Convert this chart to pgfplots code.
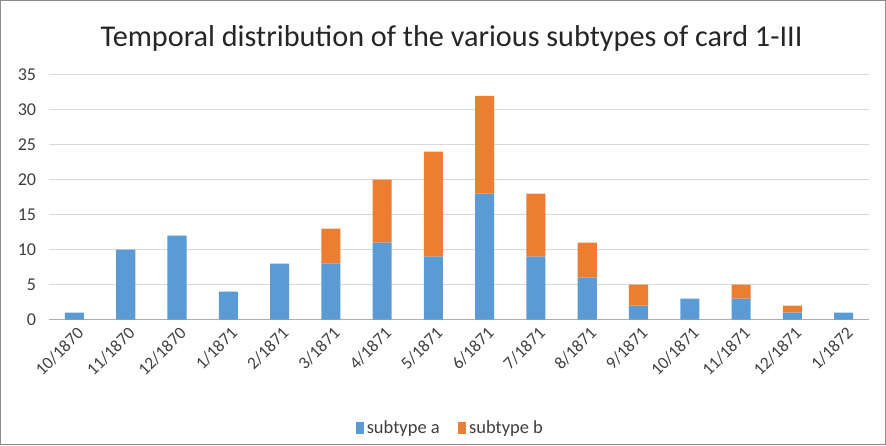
\documentclass[border=0pt]{standalone}
\usepackage{pgfplots}
\pgfplotsset{compat=1.18}
\usepackage{fontspec}
\setmainfont{Carlito}

\definecolor{cblue}{HTML}{5B9BD5}
\definecolor{corange}{HTML}{ED7D31}
\definecolor{cgrid}{HTML}{D9D9D9}
\definecolor{ctext}{HTML}{404040}

\begin{document}
\begin{tikzpicture}
  \begin{axis}[
    scale only axis,
    width=613.5pt, height=183pt,
    ybar stacked,
    bar width=14.25pt,
    xmin=-0.5, xmax=15.5,
    ymin=0, ymax=35,
    xtick={0,...,15},
    xticklabels={10/1870,11/1870,12/1870,1/1871,2/1871,3/1871,4/1871,5/1871,6/1871,7/1871,8/1871,9/1871,10/1871,11/1871,12/1871,1/1872},
    x tick label style={rotate=45, anchor=east, font=\fontsize{13}{13}\selectfont,
      text=ctext, yshift=-9pt, xshift=1pt},
    ytick={0,5,...,35},
    y tick label style={font=\fontsize{13.5}{13.5}\selectfont, text=ctext, xshift=-6pt},
    /pgf/number format/assume math mode=true,
    major tick length=0pt,
    ymajorgrids=true,
    grid style={cgrid, line width=0.75pt},
    axis line style={draw=none},
    clip=false,
    legend style={at={(0.49,-0.443)}, anchor=center, draw=none,
      font=\fontsize{13.8}{13.8}\selectfont, text=ctext,
      legend columns=2, /tikz/every even column/.append style={column sep=12pt}},
    legend image code/.code={\fill[#1] (1pt,-4.5pt) rectangle (7pt,4.5pt);},
  ]
    \addplot[fill=cblue, draw=none] coordinates {
      (0,1) (1,10) (2,12) (3,4) (4,8) (5,8) (6,11) (7,9)
      (8,18) (9,9) (10,6) (11,2) (12,3) (13,3) (14,1) (15,1)};
    \addplot[fill=corange, draw=none] coordinates {
      (0,0) (1,0) (2,0) (3,0) (4,0) (5,5) (6,9) (7,15)
      (8,14) (9,9) (10,5) (11,3) (12,0) (13,2) (14,1) (15,0)};
    \legend{subtype a, subtype b}
    \draw[cgrid!80!black, line width=0.75pt] (rel axis cs:0,0) -- (rel axis cs:1,0);
    \node[font=\fontsize{22.6}{22.6}\selectfont, text=black!85] at (rel axis cs:0.491,1.15)
      {Temporal distribution of the various subtypes of card 1-III};
    \draw[black!45, line width=1pt] (rel axis cs:-0.0587,-0.512) rectangle (rel axis cs:1.0196,1.303);
  \end{axis}
\end{tikzpicture}
\end{document}
